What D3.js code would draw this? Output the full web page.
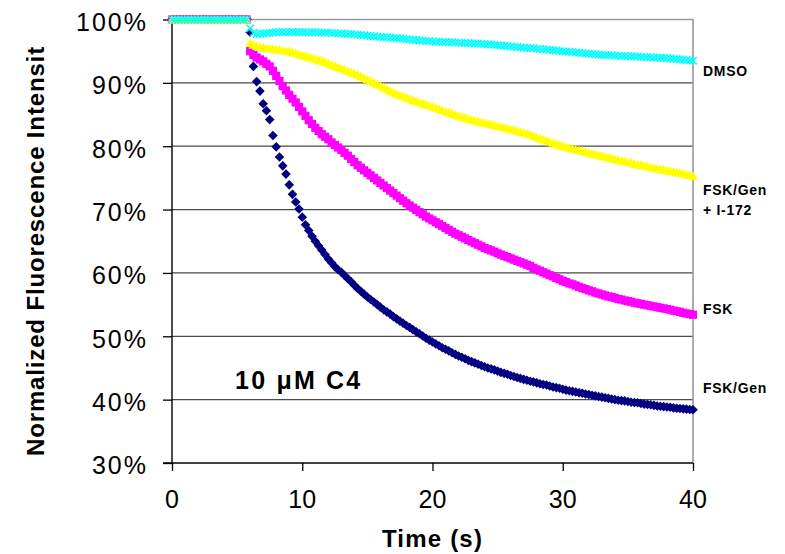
<!DOCTYPE html>
<html>
<head>
<meta charset="utf-8">
<script src="https://cdn.jsdelivr.net/npm/d3@7"></script>
<style>
  body { margin: 0; background: #fff; }
  svg { display: block; }
  text { font-family: Arial, "Liberation Sans", sans-serif; }
</style>
</head>
<body>
<svg id="chart"></svg>
<script>
// sampling grid of the recording (s)
const timeStep = 0.25;
const time = d3.range(0, 40 + 1e-9, timeStep);

// normalized fluorescence (%), one value per sample
const fskGen = [
  100,100,100,100,100,100,100,100,100,100,100,100,
  100,100,100,100,100,100,100,100,100,100,100,100,
  98.0, 92.6, 90.2, 88.7, 86.7, 85.6, 84.2, 81.7,
  79.9, 78.3, 76.9, 75.6, 73.9, 72.4, 71.2, 70.1,
  68.8, 67.6, 66.7, 65.8, 65.0, 64.3, 63.6, 62.9,
  62.2, 61.6, 61.0, 60.5, 60.1, 59.6, 59.1, 58.6,
  58.05, 57.55, 57.1, 56.65, 56.2, 55.8, 55.4, 55.0,
  54.6, 54.2, 53.85, 53.5, 53.1, 52.75, 52.4, 52.05,
  51.7, 51.4, 51.05, 50.7, 50.4, 50.05, 49.7, 49.4,
  49.1, 48.8, 48.5, 48.2, 47.95, 47.7, 47.4, 47.15,
  46.9, 46.7, 46.45, 46.2, 46.0, 45.8, 45.6, 45.4,
  45.2, 45.0, 44.85, 44.7, 44.5, 44.3, 44.15, 44.0,
  43.8, 43.65, 43.5, 43.35, 43.2, 43.05, 42.9, 42.8,
  42.65, 42.5, 42.4, 42.3, 42.15, 42.0, 41.9, 41.8,
  41.65, 41.5, 41.4, 41.3, 41.2, 41.1, 41.0, 40.9,
  40.8, 40.7, 40.6, 40.5, 40.4, 40.3, 40.2, 40.1,
  40.0, 39.9, 39.85, 39.8, 39.7, 39.6, 39.55, 39.5,
  39.4, 39.3, 39.25, 39.2, 39.1, 39.0, 38.95, 38.9,
  38.85, 38.8, 38.7, 38.65, 38.6, 38.55, 38.5, 38.45,
  38.4
];

const fsk = [
  100,100,100,100,100,100,100,100,100,100,100,100,
  100,100,100,100,100,100,100,100,100,100,100,100,
  95.0, 94.4, 94.0, 93.7, 93.4, 93.0, 92.6, 91.9,
  91.1, 90.3, 89.5, 88.8, 88.1, 87.5, 86.9, 86.2,
  85.5, 84.8, 84.1, 83.5, 82.9, 82.4, 81.9, 81.5,
  81.1, 80.6, 80.2, 79.8, 79.4, 78.95, 78.5, 78.0,
  77.5, 77.0, 76.6, 76.2, 75.8, 75.4, 75.0, 74.6,
  74.2, 73.8, 73.4, 73.0, 72.6, 72.2, 71.8, 71.4,
  71.0, 70.65, 70.3, 69.95, 69.6, 69.25, 68.9, 68.6,
  68.3, 68.0, 67.7, 67.4, 67.1, 66.8, 66.5, 66.2,
  65.95, 65.7, 65.45, 65.2, 64.95, 64.7, 64.45, 64.2,
  63.95, 63.75, 63.55, 63.35, 63.1, 62.9, 62.7, 62.5,
  62.3, 62.1, 61.9, 61.7, 61.5, 61.3, 61.1, 60.8,
  60.55, 60.35, 60.1, 59.9, 59.65, 59.45, 59.2, 59.0,
  58.75, 58.55, 58.35, 58.2, 58.0, 57.8, 57.6, 57.45,
  57.25, 57.1, 56.9, 56.75, 56.6, 56.45, 56.3, 56.2,
  56.05, 55.9, 55.8, 55.65, 55.55, 55.45, 55.3, 55.2,
  55.1, 55.0, 54.9, 54.8, 54.7, 54.6, 54.5, 54.4,
  54.3, 54.2, 54.05, 53.95, 53.85, 53.7, 53.6, 53.5,
  53.4
];

const fskGenI172 = [
  100,100,100,100,100,100,100,100,100,100,100,100,
  100,100,100,100,100,100,100,100,100,100,100,100,
  96.3, 96.0, 95.8, 95.7, 95.6, 95.5, 95.45, 95.4,
  95.3, 95.25, 95.15, 95.05, 95.0, 94.85, 94.7, 94.55,
  94.4, 94.25, 94.1, 93.95, 93.8, 93.65, 93.5, 93.3,
  93.1, 92.9, 92.7, 92.5, 92.3, 92.1, 91.9, 91.7,
  91.5, 91.3, 91.05, 90.8, 90.55, 90.3, 90.05, 89.8,
  89.55, 89.3, 89.0, 88.75, 88.5, 88.3, 88.1, 87.9,
  87.7, 87.5, 87.3, 87.1, 86.95, 86.8, 86.6, 86.45,
  86.25, 86.1, 85.9, 85.7, 85.5, 85.35, 85.15, 84.95,
  84.8, 84.65, 84.5, 84.35, 84.2, 84.05, 83.95, 83.8,
  83.7, 83.6, 83.45, 83.35, 83.2, 83.1, 82.95, 82.85,
  82.7, 82.6, 82.45, 82.3, 82.15, 82.0, 81.85, 81.65,
  81.45, 81.25, 81.1, 80.9, 80.75, 80.55, 80.4, 80.2,
  80.05, 79.9, 79.75, 79.65, 79.5, 79.4, 79.25, 79.1,
  79.0, 78.85, 78.75, 78.6, 78.5, 78.35, 78.25, 78.1,
  78.0, 77.85, 77.75, 77.6, 77.5, 77.4, 77.25, 77.15,
  77.05, 76.95, 76.85, 76.7, 76.6, 76.5, 76.4, 76.3,
  76.2, 76.1, 76.0, 75.9, 75.8, 75.7, 75.55, 75.45,
  75.3
];

const dmso = [
  100,100,100,100,100,100,100,100,100,100,100,100,
  100,100,100,100,100,100,100,100,100,100,100,100,
  98.6, 97.9, 97.7, 97.75, 97.8, 97.85, 97.9, 97.95,
  98.0, 98.0, 98.05, 98.0, 98.0, 98.05, 98.0, 98.0,
  98.0, 98.0, 97.95, 98.0, 98.0, 97.95, 97.95, 97.9,
  97.9, 97.85, 97.85, 97.8, 97.8, 97.75, 97.7, 97.7,
  97.65, 97.6, 97.55, 97.5, 97.45, 97.4, 97.35, 97.3,
  97.25, 97.2, 97.2, 97.15, 97.1, 97.05, 97.0, 96.95,
  96.9, 96.85, 96.8, 96.75, 96.7, 96.65, 96.6, 96.6,
  96.55, 96.5, 96.5, 96.45, 96.45, 96.4, 96.4, 96.35,
  96.35, 96.3, 96.3, 96.25, 96.25, 96.2, 96.2, 96.15,
  96.1, 96.1, 96.05, 96.0, 95.95, 95.9, 95.85, 95.8,
  95.75, 95.7, 95.65, 95.6, 95.55, 95.5, 95.5, 95.45,
  95.4, 95.35, 95.3, 95.25, 95.2, 95.15, 95.1, 95.05,
  95.0, 94.95, 94.9, 94.85, 94.8, 94.75, 94.7, 94.65,
  94.6, 94.55, 94.5, 94.45, 94.45, 94.4, 94.35, 94.35,
  94.3, 94.3, 94.25, 94.25, 94.2, 94.2, 94.15, 94.15,
  94.1, 94.1, 94.05, 94.05, 94.0, 94.0, 93.95, 93.95,
  93.9, 93.85, 93.8, 93.75, 93.7, 93.65, 93.6, 93.55,
  93.5
];

const yTicks = [30, 40, 50, 60, 70, 80, 90, 100];
const xTicks = [0, 10, 20, 30, 40];

// series labels at the right edge (lines, vertical position in %)
const seriesLabels = [
  {lines: ["DMSO"], at: 91.1},
  {lines: ["FSK/Gen", "+ I-172"], at: 72.3},
  {lines: ["FSK"], at: 53.5},
  {lines: ["FSK/Gen"], at: 41.0}
];

(function() {
  const W = 785, H = 554;
  const svg = d3.select("#chart").attr("width", W).attr("height", H);
  svg.append("rect").attr("width", W).attr("height", H).attr("fill", "#fff");

  const x = d3.scaleLinear().domain([0, 40]).range([172, 693]);
  const y = d3.scaleLinear().domain([30, 100]).range([463, 19.5]);

  // gridlines
  svg.append("g").selectAll("line")
    .data(yTicks.filter(v => v > 30 && v < 100))
    .join("line")
    .attr("x1", x(0)).attr("x2", x(40))
    .attr("y1", d => y(d)).attr("y2", d => y(d))
    .attr("stroke", "#4a4a4a").attr("stroke-width", 1.3);

  // plot area border (top / right)
  svg.append("path")
    .attr("d", `M${x(0)},${y(100)}H${x(40)}V${y(30)}`)
    .attr("fill", "none").attr("stroke", "#9a9a9a").attr("stroke-width", 1.6);

  // y axis
  const yAxis = svg.append("g")
    .attr("transform", `translate(${x(0)},0)`)
    .call(d3.axisLeft(y).tickValues(yTicks).tickSize(9).tickFormat(""));
  yAxis.select(".domain").remove();
  yAxis.selectAll(".tick line").attr("stroke", "#000").attr("stroke-width", 1.3);
  svg.append("line")
    .attr("x1", x(0)).attr("x2", x(0)).attr("y1", y(100)).attr("y2", y(30))
    .attr("stroke", "#000").attr("stroke-width", 1.4);

  svg.append("g").selectAll("text")
    .data(yTicks)
    .join("text")
    .attr("x", 148)
    .attr("y", d => y(d) + 11.3)
    .attr("text-anchor", "end")
    .attr("font-size", 25)
    .attr("letter-spacing", 2)
    .attr("fill", "#000")
    .text(d => d + "%");

  // x axis
  const xAxis = svg.append("g")
    .attr("transform", `translate(0,${y(30)})`)
    .call(d3.axisBottom(x).tickValues(xTicks).tickSize(8).tickFormat(""));
  xAxis.select(".domain").remove();
  xAxis.selectAll(".tick line").attr("stroke", "#000").attr("stroke-width", 1.3);
  svg.append("line")
    .attr("x1", x(0) - 9).attr("x2", x(40)).attr("y1", y(30)).attr("y2", y(30))
    .attr("stroke", "#000").attr("stroke-width", 1.4);

  svg.append("g").selectAll("text")
    .data(xTicks)
    .join("text")
    .attr("x", d => x(d))
    .attr("y", y(30) + 44.5)
    .attr("text-anchor", "middle")
    .attr("font-size", 25)
    .attr("fill", "#000")
    .text(d => d);

  // axis titles
  svg.append("text")
    .attr("x", (x(0) + x(40)) / 2)
    .attr("y", 546.5)
    .attr("text-anchor", "middle")
    .attr("font-size", 24)
    .attr("font-weight", "bold")
    .attr("letter-spacing", 1.2)
    .text("Time (s)");

  svg.append("text")
    .attr("transform", "translate(44,251) rotate(-90)")
    .attr("text-anchor", "middle")
    .attr("font-size", 24)
    .attr("font-weight", "bold")
    .attr("letter-spacing", 0.85)
    .text("Normalized Fluorescence Intensit");

  // markers
  const series = [
    {name: "FSK/Gen", values: fskGen, color: "#000080",
     shape: "M0,-4.8L4.8,0L0,4.8L-4.8,0Z", fill: true},
    {name: "FSK", values: fsk, color: "#ff00ff",
     shape: "M-4.1,-4.1h8.2v8.2h-8.2Z", fill: true},
    {name: "FSK/Gen + I-172", values: fskGenI172, color: "#ffff00",
     shape: "M0,-4.6L4.8,4L-4.8,4Z", fill: true},
    {name: "DMSO", values: dmso, color: "#00ffff",
     shape: "M-3.7,-3.7L3.7,3.7M-3.7,3.7L3.7,-3.7", fill: false}
  ];

  series.forEach(s => {
    const pts = time.map((t, i) => ({t, v: s.values[i]}));
    svg.append("g")
      .attr("class", "series")
      .selectAll("path")
      .data(pts)
      .join("path")
      .attr("transform", d => `translate(${x(d.t)},${y(d.v)})`)
      .attr("d", s.shape)
      .attr("fill", s.fill ? s.color : "none")
      .attr("stroke", s.fill ? "none" : s.color)
      .attr("stroke-width", s.fill ? 0 : 1.5);
  });

  // series labels
  seriesLabels.forEach(l => {
    const t = svg.append("text")
      .attr("x", 703)
      .attr("y", y(l.at))
      .attr("font-size", 14)
      .attr("font-weight", "bold")
      .attr("letter-spacing", 0.7);
    t.selectAll("tspan")
      .data(l.lines)
      .join("tspan")
      .attr("x", 703)
      .attr("dy", (d, i) => i === 0 ? 0 : 20)
      .text(d => d);
  });

  // condition note
  svg.append("text")
    .attr("x", x(4.84))
    .attr("y", y(41.7))
    .attr("font-size", 25)
    .attr("font-weight", "bold")
    .attr("letter-spacing", 2.2)
    .text("10 \u03BCM C4");
})();
</script>
</body>
</html>
